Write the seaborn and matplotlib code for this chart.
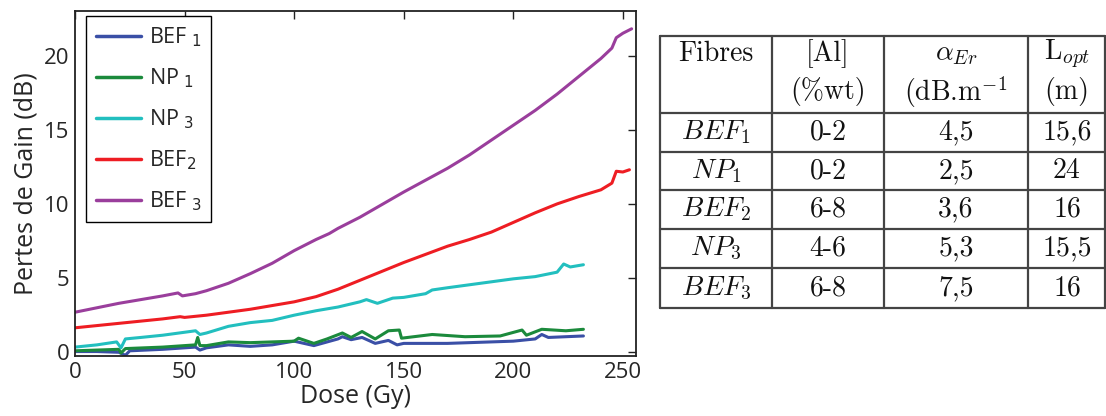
import numpy as np
import pandas as pd
import matplotlib
matplotlib.use('Agg')
import matplotlib.pyplot as plt
from matplotlib.ticker import MultipleLocator
import seaborn as sns

# dose (Gy) / gain loss (dB)
bef1_dose = [0, 10, 20, 23, 25, 40, 55, 57, 60, 70, 80, 90, 100, 109, 120, 122, 126, 131, 137, 143, 147, 150,
             160, 170, 180, 190, 200, 210, 213, 216, 224, 232]
bef1_loss = [0.05, 0.05, 0.0, -0.2, 0.1, 0.2, 0.35, 0.15, 0.3, 0.5, 0.4, 0.5, 0.75, 0.45, 0.9, 1.05, 0.85, 1.0,
             0.6, 0.8, 0.5, 0.6, 0.6, 0.6, 0.65, 0.7, 0.75, 0.9, 1.2, 1.0, 1.05, 1.1]

np1_dose = [0, 10, 20, 21, 23, 40, 55, 56, 57, 60, 70, 80, 90, 100, 102, 109, 115, 122, 126, 131, 137, 143,
            148, 149, 163, 178, 194, 204, 206, 213, 224, 232]
np1_loss = [0.1, 0.15, 0.2, -0.05, 0.25, 0.35, 0.5, 1.0, 0.45, 0.45, 0.7, 0.65, 0.7, 0.75, 0.95, 0.6, 0.9,
            1.3, 1.0, 1.4, 0.9, 1.45, 1.5, 0.95, 1.2, 1.05, 1.1, 1.5, 1.15, 1.55, 1.45, 1.55]

np3_dose = [0, 10, 19, 21, 23, 30, 40, 50, 55, 57, 60, 70, 80, 90, 100, 110, 120, 130, 133, 138, 145, 150,
            160, 163, 170, 180, 190, 200, 210, 220, 223, 226, 232]
np3_loss = [0.35, 0.5, 0.7, 0.3, 0.9, 1.0, 1.15, 1.35, 1.45, 1.2, 1.3, 1.75, 2.0, 2.15, 2.5, 2.8, 3.05, 3.4,
            3.55, 3.3, 3.65, 3.7, 3.95, 4.2, 4.35, 4.55, 4.75, 4.95, 5.1, 5.4, 5.95, 5.75, 5.9]

bef2_dose = [0, 10, 20, 30, 40, 48, 50, 60, 70, 80, 90, 100, 110, 120, 130, 140, 150, 160, 170, 180, 190,
             200, 210, 220, 230, 240, 245, 247, 250, 253]
bef2_loss = [1.65, 1.8, 1.95, 2.1, 2.25, 2.4, 2.35, 2.5, 2.7, 2.9, 3.15, 3.4, 3.75, 4.25, 4.85, 5.45, 6.05,
             6.6, 7.15, 7.6, 8.1, 8.75, 9.4, 10.0, 10.5, 10.95, 11.4, 12.2, 12.15, 12.3]

bef3_dose = [0, 10, 20, 30, 40, 47, 49, 55, 60, 70, 80, 90, 100, 110, 116, 120, 130, 140, 150, 160, 170, 180,
             190, 200, 210, 220, 230, 240, 245, 247, 250, 254]
bef3_loss = [2.7, 3.0, 3.3, 3.55, 3.8, 4.0, 3.8, 3.95, 4.15, 4.65, 5.3, 6.0, 6.85, 7.6, 8.0, 8.35, 9.1, 9.95,
             10.8, 11.6, 12.4, 13.3, 14.3, 15.3, 16.3, 17.4, 18.6, 19.8, 20.5, 21.2, 21.5, 21.8]

series_names = ['BEF $_1$', 'NP $_1$', 'NP $_3$', 'BEF$_2$', 'BEF $_3$']
series_colors = ['#3a4fa6', '#1b8a3c', '#22bfbf', '#ee1d23', '#9a3e9c']

# table content
table_header_top = ['Fibres', '[Al]', r'$\alpha_{Er}$', r'L$_{opt}$']
table_header_bot = ['', '(%wt)', r'(dB.m$^{-1}$', '(m)']
table_fibres = [r'$BEF_1$', r'$NP_1$', r'$BEF_2$', r'$NP_3$', r'$BEF_3$']
table_al = ['0-2', '0-2', '6-8', '4-6', '6-8']
table_alpha = ['4,5', '2,5', '3,6', '5,3', '7,5']
table_lopt = ['15,6', '24', '16', '15,5', '16']

frames = []
for name, d, v in zip(series_names,
                      [bef1_dose, np1_dose, np3_dose, bef2_dose, bef3_dose],
                      [bef1_loss, np1_loss, np3_loss, bef2_loss, bef3_loss]):
    frames.append(pd.DataFrame({'dose': d, 'loss': v, 'fibre': name}))
df = pd.concat(frames, ignore_index=True)

sns.set_style('white')
plt.rcParams['font.family'] = ['Open Sans', 'DejaVu Sans']

W, H = 1106, 416
fig = plt.figure(figsize=(W / 100, H / 100), dpi=100)
ax = fig.add_axes([75 / W, 1 - 356 / H, (636 - 75) / W, (356 - 11) / H])

sns.lineplot(data=df, x='dose', y='loss', hue='fibre', hue_order=series_names,
             palette=series_colors, linewidth=2.2, ax=ax, sort=False)

ax.set_xlim(0, 256)
ax.set_ylim(-0.25, 23)
ax.xaxis.set_major_locator(MultipleLocator(50))
ax.xaxis.set_minor_locator(MultipleLocator(10))
ax.yaxis.set_major_locator(MultipleLocator(5))
ax.yaxis.set_minor_locator(MultipleLocator(1))
ax.tick_params(which='both', direction='in', top=True, right=True, labelsize=16, color='#222222')
ax.tick_params(which='major', length=6, width=1.0, pad=4)
ax.tick_params(which='minor', length=3.5, width=0.9, top=False, right=False)
for sp in ax.spines.values():
    sp.set_linewidth(1.3)
    sp.set_color('#222222')
ax.set_xlabel('Dose (Gy)', fontsize=18, labelpad=1)
ax.set_ylabel('Pertes de Gain (dB)', fontsize=18, labelpad=4)

handles, labels = ax.get_legend_handles_labels()
leg = ax.legend(handles, labels, loc='upper left', bbox_to_anchor=(0.02, 0.985), fontsize=15.5,
                frameon=True, fancybox=False, edgecolor='black', framealpha=1,
                handlelength=2.1, handletextpad=0.35, labelspacing=0.8, borderpad=0.45, borderaxespad=0)
leg.get_frame().set_linewidth(1.0)
for line in leg.get_lines():
    line.set_linewidth(2.5)

# table drawn in pixel coordinates
tax = fig.add_axes([0, 0, 1, 1])
tax.set_xlim(0, W)
tax.set_ylim(H, 0)
tax.axis('off')

col_edges = [660, 772, 884, 1028, 1105]
row_edges = [36, 113, 152, 190, 229, 268, 308]
line_kw = dict(color='#444444', linewidth=1.6)
for yy in row_edges:
    tax.plot([col_edges[0], col_edges[-1]], [yy, yy], **line_kw)
for xx in col_edges:
    tax.plot([xx, xx], [row_edges[0], row_edges[-1]], **line_kw)

col_centers = [(a + b) / 2 for a, b in zip(col_edges[:-1], col_edges[1:])]
col_centers[3] = 1067
txt_kw = dict(fontsize=20, family='cmr10', math_fontfamily='cm', ha='center', va='center', color='#111111')
for cx, top, bot in zip(col_centers, table_header_top, table_header_bot):
    tax.text(cx, 54, top, **txt_kw)
    if bot:
        tax.text(cx, 92, bot, **txt_kw)
row_centers = [(a + b) / 2 for a, b in zip(row_edges[1:-1], row_edges[2:])]
for i, ry in enumerate(row_centers):
    for cx, val in zip(col_centers, [table_fibres[i], table_al[i], table_alpha[i], table_lopt[i]]):
        tax.text(cx, ry, val, **txt_kw)

fig.savefig('out.png', dpi=100)
